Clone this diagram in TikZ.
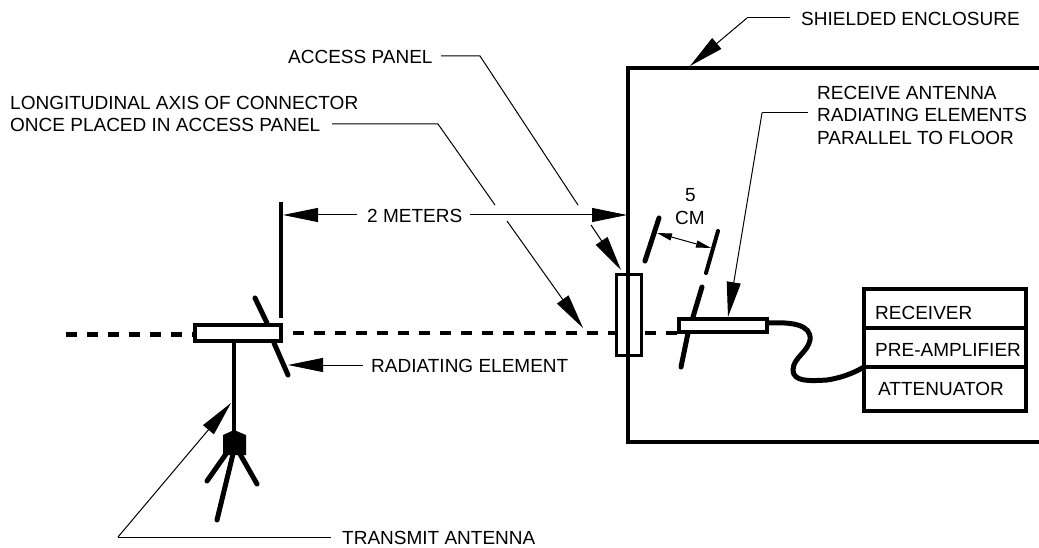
\documentclass[tikz,border=0pt]{standalone}
\usepackage{fontspec}
\setmainfont{Liberation Sans}
\usetikzlibrary{arrows.meta, positioning}
\tikzset{
  label text/.style={anchor=west, inner sep=0pt, font=\fontsize{19}{22}\selectfont},
  leader/.style={line width=1pt},
  leader tip/.style={line width=1pt, -{Triangle[length=35pt,width=14pt]}},
  heavy/.style={line width=4.5pt},
  rod/.style={line width=5pt, line cap=round},
  axis dash/.style={line width=4.5pt, dash pattern=on 11pt off 10pt}
}
\begin{document}
\begin{tikzpicture}[x=1pt,y=-1pt]
  \useasboundingbox (0,0) rectangle (1039,548);
  % Labels
  \node[label text] (shielded) at (801,19) {SHIELDED ENCLOSURE};
  \node[label text] (access) at (288,57) {ACCESS PANEL};
  \node[label text] (longi) at (10,103) {LONGITUDINAL AXIS OF CONNECTOR};
  \node[label text] (once) at (10,125) {ONCE PLACED IN ACCESS PANEL};
  \node[label text] (recva) at (817,93) {RECEIVE ANTENNA};
  \node[label text] (recvb) at (817,115) {RADIATING ELEMENTS};
  \node[label text] (recvc) at (817,138) {PARALLEL TO FLOOR};
  \node[label text] (meters) at (367,216) {2 METERS};
  \node[label text] (radiating) at (371,366) {RADIATING ELEMENT};
  \node[label text] (transmit) at (342,538) {TRANSMIT ANTENNA};
  \node[label text] (five) at (685,195) {5};
  \node[label text] (cm) at (675,218) {CM};
  \node[label text] (receiver) at (875,313) {RECEIVER};
  \node[label text] (preamp) at (875,350) {PRE-AMPLIFIER};
  \node[label text] (atten) at (878,389) {ATTENUATOR};
  % Enclosure and receiver stack
  \draw[heavy] (1039,68) -- (628,68) -- (628,442) -- (1039,442);
  \draw[heavy] (864,289) rectangle (1026,411);
  \draw[heavy] (864,328) -- (1026,328);
  \draw[heavy] (864,367) -- (1026,367);
  % Axis
  \draw[axis dash] (66,334.5) -- (193,334.5);
  \draw[axis dash] (293,333) -- (615,333);
  \draw[axis dash] (645,333) -- (678,333);
  % Access panel
  \draw[line width=3pt] (616.5,274.5) rectangle (641.5,355.5);
  % Transmit antenna
  \draw[heavy, fill=white] (195,325) rectangle (281,341);
  \draw[heavy] (281,202) -- (281,318);
  \draw[rod] (255,298) -- (267,323);
  \draw[rod] (274,343) -- (288,375);
  \draw[heavy] (234,343) -- (234,432);
  \fill (234,430) -- (246,435) -- (246,455) -- (223,455) -- (223,435) -- cycle;
  \foreach \a/\bx/\by in {226/207/481, 233/217/520, 240/257/484} {
    \draw[rod] (\a,454) -- (\bx,\by);
  }
  % Receive antenna
  \draw[rod] (702,287) -- (693,317);
  \draw[rod] (688,333) -- (681,367);
  \draw[line width=4pt, fill=white] (679,319) rectangle (767,332);
  \draw[rod] (659,218) -- (645,261);
  \draw[rod, line width=4pt] (718,231) -- (706,273);
  \draw[line width=1pt, {Triangle[length=15pt,width=7pt]}-{Triangle[length=15pt,width=7pt]}] (657,233) -- (711,248);
  % Cable
  \draw[rod] (769,323) .. controls (790,322) and (812,324) .. (810,340)
    .. controls (808,352) and (793,358) .. (793,370)
    .. controls (793,382) and (810,381) .. (827,380)
    .. controls (840,378) and (852,374) .. (864,367);
  % Leaders
  \coordinate (shieldedk) at (747,18);
  \coordinate (accessk) at (480,56);
  \coordinate (longik) at (438,124);
  \coordinate (recvk) at (762,113);
  \draw[leader] (790,18) -- (shieldedk);
  \draw[leader tip] (shieldedk) -- (690,66);
  \draw[leader] (441,56) -- (accessk) -- (578,205);
  \draw[leader tip] (591,225) -- (621,270);
  \draw[leader] (332,124) -- (longik) -- (495,205);
  \draw[leader tip] (507,221) -- (583,328);
  \draw[leader] (808,113) -- (recvk);
  \draw[leader tip] (recvk) -- (728,317);
  \draw[leader tip] (357,215) -- (283,215);
  \draw[leader tip] (470,215) -- (627,215);
  \draw[leader tip] (363,365) -- (288,365);
  \coordinate (transmitk) at (118,537);
  \draw[leader] (331,537) -- (transmitk);
  \draw[leader tip] (transmitk) -- (231,403);
\end{tikzpicture}
\end{document}
